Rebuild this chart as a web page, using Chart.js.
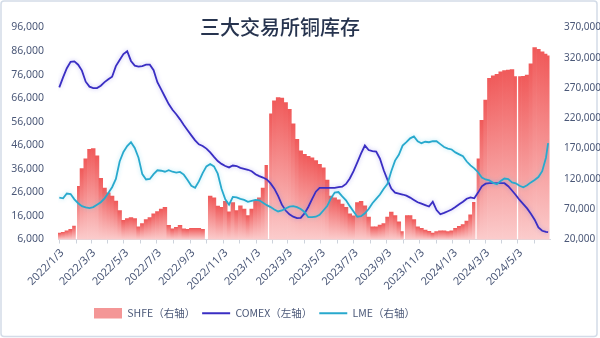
<!DOCTYPE html>
<html>
<head>
<meta charset="utf-8">
<script src="https://cdn.jsdelivr.net/npm/chart.js@4.4.1/dist/chart.umd.min.js"></script>
<style>
  html, body { margin: 0; padding: 0; background: #ffffff; }
  #wrap { width: 600px; height: 338px; }
</style>
</head>
<body>
<div id="wrap"><canvas id="chart" width="600" height="338"></canvas></div>
<script>
// ---- weekly observation dates (Mondays from 2022/1/3, last row 2024/6/28) ----
const weekDates = [];
for (let i = 0; i < 130; i++) {
  const t = new Date(Date.UTC(2022, 0, 3 + 7 * i));
  weekDates.push(t.getUTCFullYear() + '/' + (t.getUTCMonth() + 1) + '/' + t.getUTCDate());
}
weekDates.push('2024/6/28');

// exchange holidays: SHFE has no rows on these days
const holidayBreaks = ['2022/2/4', '2023/1/26', '2023/10/5', '2024/2/15', '2024/5/2'];

// ---- SHFE copper stocks, tonnes (right axis) ----
const shfe = [
  30400, 32000, 34400, 36800, 42100, 107600, 137000, 153000, 168900, 169900,
  158200, 121000, 105000, 97000, 91600, 83600, 67600, 51600, 54400, 56000,
  54400, 41100, 46400, 52800, 56000, 62400, 66300, 70300, 73100, 43200,
  37600, 40000, 43200, 37600, 36800, 38400, 38400, 38400, 36800, null,
  91600, 88700, 75100, 73100, 83100, 65500, 81100, 67600, 75600, 70300,
  59600, 70300, 83100, 89000, 105000, 142300, 227400, 248900, 254100, 253300,
  246100, 235000, 211000, 185400, 166200, 160600, 157400, 155000, 150300, 143900,
  138300, 118300, 91600, 89000, 85500, 78300, 73100, 62400, 59200, 81100,
  83100, 75600, 57100, 41100, 41100, 43700, 46400, 57100, 65100, 59600,
  49100, 33100, 59600, 59600, 52800, 41100, 38400, 35700, 33600, 30400,
  33100, 34400, 34400, 33100, 34400, 38400, 41600, 44800, 50400, 60800,
  81500, 153000, 216900, 250000, 286100, 290100, 292500, 296800, 298900, 299700,
  300500, 288800, 288800, 289300, 291400, 310100, 336800, 334000, 330000, 326000,
  323300
];

// ---- COMEX copper stocks, short tons (left axis) ----
const comex = [
  70600, 74800, 78700, 81400, 81600, 80200, 77700, 73000, 70900, 70300,
  70300, 71300, 72800, 74000, 75100, 79600, 82200, 84700, 85900, 81800,
  79800, 79400, 79600, 80200, 80200, 77900, 72800, 69700, 66600, 63500,
  61100, 59200, 57000, 54600, 52400, 50200, 48100, 46400, 45700, 44600,
  43000, 41100, 39300, 38100, 37200, 36600, 37400, 37200, 36400, 36000,
  35600, 35000, 33700, 32900, 32300, 31500, 29800, 27600, 24500, 20800,
  18300, 16700, 15700, 15100, 15200, 17100, 19800, 23100, 26300, 27900,
  27900, 27900, 27900, 27900, 28200, 28400, 29600, 31900, 35000, 38700,
  42600, 45900, 44000, 43500, 43300, 40300, 35400, 31300, 27600, 25900,
  25500, 25100, 24600, 23800, 22800, 21800, 21200, 20600, 20000, 22000,
  18500, 16700, 17300, 18000, 18700, 19800, 21000, 22000, 23300, 23900,
  23500, 25900, 28600, 29700, 29900, 29900, 29900, 29900, 29900, 28600,
  26800, 24900, 22800, 21000, 19200, 16900, 14400, 11100, 9700, 9200,
  9100
];

// ---- LME copper stocks, tonnes (right axis) ----
const lme = [
  89000, 87900, 95900, 95100, 86300, 79900, 75100, 73100, 71900, 73500,
  77500, 81500, 87900, 96700, 106300, 119900, 148700, 164600, 174200, 180600,
  171000, 155000, 127900, 119100, 119900, 128000, 134300, 133500, 131900, 134300,
  131900, 130300, 131600, 127100, 118300, 108700, 105500, 115900, 129500, 140700,
  144700, 140700, 128700, 103900, 86300, 77500, 90300, 89500, 87100, 85500,
  82300, 83900, 85500, 84700, 80700, 76700, 73500, 69500, 66300, 67900,
  71100, 74300, 75100, 73500, 70300, 65500, 56800, 56800, 57600, 60800,
  67900, 75100, 87900, 97500, 98300, 91100, 84700, 75100, 66300, 57600,
  58400, 63200, 70300, 79900, 87100, 94300, 103900, 111900, 132700, 150300,
  159800, 175000, 180600, 187000, 190200, 182200, 179000, 181400, 180600, 182200,
  182200, 177400, 172600, 170200, 168600, 163800, 160600, 157400, 148700, 142300,
  137500, 131100, 122300, 119100, 117500, 113500, 111100, 116700, 120700, 119900,
  114300, 112700, 108700, 106300, 109500, 114300, 118300, 123100, 132700, 155000,
  179000
];

// ---- x axis: a tick on the 3rd of every month, labels every other month ----
const monthTicks = [
  '2022/1/3', '2022/2/3', '2022/3/3', '2022/4/3', '2022/5/3', '2022/6/3',
  '2022/7/3', '2022/8/3', '2022/9/3', '2022/10/3', '2022/11/3', '2022/12/3',
  '2023/1/3', '2023/2/3', '2023/3/3', '2023/4/3', '2023/5/3', '2023/6/3',
  '2023/7/3', '2023/8/3', '2023/9/3', '2023/10/3', '2023/11/3', '2023/12/3',
  '2024/1/3', '2024/2/3', '2024/3/3', '2024/4/3', '2024/5/3', '2024/6/3'
];
const tickLabels = [
  '2022/1/3', '2022/3/3', '2022/5/3', '2022/7/3', '2022/9/3', '2022/11/3',
  '2023/1/3', '2023/3/3', '2023/5/3', '2023/7/3', '2023/9/3', '2023/11/3',
  '2024/1/3', '2024/3/3', '2024/5/3'
];

const seriesNames = ['SHFE（右轴）', 'COMEX（左轴）', 'LME（右轴）'];
const chartTitle = '三大交易所铜库存';

// ---- helpers ----
const ORIGIN = Date.UTC(2022, 0, 3);
function dayOf(s) {
  const p = s.split('/').map(Number);
  return (Date.UTC(p[0], p[1] - 1, p[2]) - ORIGIN) / 86400000;
}
const tickByDay = {};
monthTicks.forEach(d => { tickByDay[dayOf(d)] = d; });

const shfePoints = weekDates.map((d, i) => ({ x: dayOf(d), y: shfe[i] }))
  .concat(holidayBreaks.map(d => ({ x: dayOf(d), y: null })))
  .sort((a, b) => a.x - b.x);
const comexPoints = weekDates.map((d, i) => ({ x: dayOf(d), y: comex[i] }));
const lmePoints = weekDates.map((d, i) => ({ x: dayOf(d), y: lme[i] }));

const fmt = v => Math.round(v).toLocaleString('en-US');
const TEXT = '#4b5878';

// each SHFE bar fades from red at its top to pale pink at the axis
function barFill(ctx) {
  const chart = ctx.chart;
  const area = chart.chartArea;
  if (!area || ctx.type !== 'data') return '#f26a6a';
  const v = ctx.parsed ? ctx.parsed.y : null;
  if (v === null || v === undefined) return 'rgba(0,0,0,0)';
  const top = chart.scales.yR.getPixelForValue(v);
  const g = chart.ctx.createLinearGradient(0, top, 0, area.bottom);
  g.addColorStop(0, '#f05a5a');
  g.addColorStop(1, '#fbcccc');
  return g;
}

// soft halo behind the two lines
const glowPlugin = {
  id: 'glow',
  beforeDatasetDraw(chart, args) {
    const ds = chart.data.datasets[args.index];
    if (!ds.glow) return;
    chart.ctx.save();
    chart.ctx.shadowColor = ds.glow;
    chart.ctx.shadowBlur = 4;
  },
  afterDatasetDraw(chart, args) {
    const ds = chart.data.datasets[args.index];
    if (ds.glow) chart.ctx.restore();
  }
};

// white card with a thin frame
const framePlugin = {
  id: 'frame',
  beforeDraw(chart) {
    const c = chart.ctx;
    c.save();
    c.fillStyle = '#ffffff';
    c.fillRect(0, 0, chart.width, chart.height);
    c.strokeStyle = '#d3dce8';
    c.lineWidth = 1.5;
    c.beginPath();
    c.roundRect(1, 1, 596, 335.5, 3);
    c.stroke();
    c.restore();
  }
};

// title sits over the top of the plot
const titlePlugin = {
  id: 'overTitle',
  afterDraw(chart) {
    const c = chart.ctx;
    c.save();
    c.font = '500 20px "Noto Sans CJK SC"';
    c.fillStyle = '#27344f';
    c.textAlign = 'center';
    c.textBaseline = 'middle';
    c.fillText(chartTitle, 280, 27);
    c.restore();
  }
};

// place the legend row under the plot
const legendPlace = {
  id: 'legendPlace',
  afterLayout(chart) {
    const lg = chart.legend;
    if (!lg || !lg.lineWidths) return;
    const P = lg.options.labels.padding;
    const cur = (lg.left + P + lg.right - lg.lineWidths[0]) / 2;
    const dx = 94 - cur;
    lg.left += dx; lg.right += dx;
    const h = lg.bottom - lg.top;
    lg.top = 313.3 - P - 5.25;
    lg.bottom = lg.top + h;
  }
};

new Chart(document.getElementById('chart'), {
  type: 'bar',
  data: {
    datasets: [
      {
        type: 'bar', label: seriesNames[0], data: shfePoints, yAxisID: 'yR', order: 3,
        barThickness: 'flex', barPercentage: 1, categoryPercentage: 1, borderWidth: 0,
        backgroundColor: barFill
      },
      {
        type: 'line', label: seriesNames[1], data: comexPoints, yAxisID: 'yL', order: 2,
        borderColor: '#3a2ec3', borderWidth: 1.8, pointRadius: 0, tension: 0,
        glow: 'rgba(120,110,235,0.45)'
      },
      {
        type: 'line', label: seriesNames[2], data: lmePoints, yAxisID: 'yR', order: 1,
        borderColor: '#28a9cd', borderWidth: 1.8, pointRadius: 0, tension: 0,
        glow: 'rgba(90,205,235,0.45)'
      }
    ]
  },
  options: {
    responsive: false,
    animation: false,
    devicePixelRatio: 1,
    layout: { padding: { top: 27.5, left: 0, right: 0, bottom: 0 } },
    plugins: {
      tooltip: { enabled: false },
      title: { display: false },
      legend: {
        position: 'bottom',
        labels: {
          usePointStyle: true,
          pointStyleWidth: 28,
          boxHeight: 11,
          padding: 7,
          color: TEXT,
          font: { family: '"Noto Sans CJK SC"', size: 10.5 },
          sort: (a, b) => a.datasetIndex - b.datasetIndex,
          generateLabels: chart => chart.data.datasets.map((ds, i) => ({
            text: ds.label,
            fillStyle: i === 0 ? '#f49696' : ds.borderColor,
            strokeStyle: i === 0 ? '#f49696' : ds.borderColor,
            lineWidth: i === 0 ? 0 : 2,
            pointStyle: i === 0 ? 'rect' : 'line',
            fontColor: TEXT,
            hidden: false,
            datasetIndex: i
          }))
        }
      }
    },
    scales: {
      x: {
        type: 'linear',
        offset: false,
        min: -2.4,
        max: 910.5,
        afterBuildTicks: s => { s.ticks = monthTicks.map(d => ({ value: dayOf(d) })); },
        afterFit: s => { s.height = 71; },
        grid: { display: true, offset: false, drawOnChartArea: false, drawTicks: true, tickLength: 4, color: '#cdd3dc' },
        border: { display: true, color: '#d5dae2' },
        ticks: {
          autoSkip: false, minRotation: 45, maxRotation: 45, padding: 3, labelOffset: 3,
          color: TEXT, font: { family: '"Noto Sans"', size: 11 },
          callback: v => {
            const d = tickByDay[v];
            return d && tickLabels.includes(d) ? d : '';
          }
        }
      },
      yL: {
        type: 'linear', position: 'left', min: 6000, max: 96000,
        afterFit: s => { s.width = 58; },
        grid: { display: false },
        border: { display: false },
        ticks: { stepSize: 10000, padding: 6, color: TEXT, font: { family: '"Noto Sans"', size: 10.5 }, callback: fmt }
      },
      yR: {
        type: 'linear', position: 'right', min: 20000, max: 370000,
        afterFit: s => { s.width = 50; },
        grid: { display: false },
        border: { display: false },
        ticks: { stepSize: 50000, padding: 6, color: TEXT, font: { family: '"Noto Sans"', size: 10 }, callback: fmt }
      }
    }
  },
  plugins: [framePlugin, glowPlugin, legendPlace, titlePlugin]
});
</script>
</body>
</html>
